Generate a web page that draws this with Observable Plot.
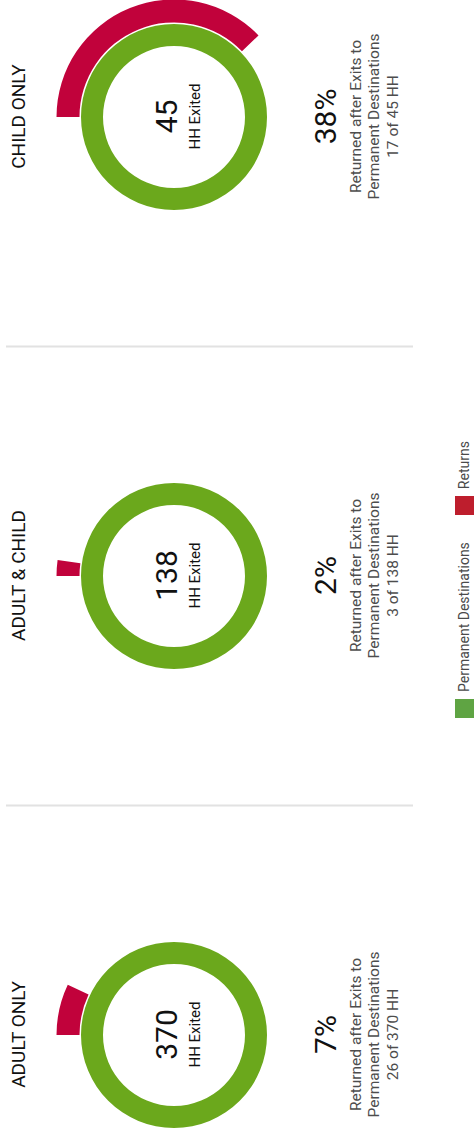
<!DOCTYPE html>
<html>
<head>
<meta charset="utf-8">
<script src="https://cdn.jsdelivr.net/npm/d3@7"></script>
<script src="https://cdn.jsdelivr.net/npm/@observablehq/plot@0.6"></script>
<style>
  html, body { margin: 0; padding: 0; background: #fff; overflow: hidden; width: 474px; height: 1137px; }
  #stage {
    position: absolute; left: 0; top: 0; width: 1137px; height: 474px;
    transform-origin: 0 0; transform: translate(0, 1137px) rotate(-90deg);
    overflow: hidden; background: #fff;
  }
  #chart svg { display: block; }
  #legend { position: absolute; left: 419px; top: 455px; white-space: nowrap; }
  .lg-swatches { font-family: Roboto, sans-serif !important; font-size: 14px !important; color: #4a4a4a !important; margin: 0 !important; min-height: 0 !important; line-height: 19px !important; }
  .lg-swatch { margin-right: 27px !important; }
  .lg-swatch > svg { margin-right: 7px !important; }
</style>
</head>
<body>
<div id="stage"><div id="chart"></div><div id="legend"></div></div>
<script>
// ---- data ----
const categories = ["ADULT ONLY", "ADULT & CHILD", "CHILD ONLY"];
const exited = [370, 138, 45];
const returned = [26, 3, 17];
const legendLabels = ["Permanent Destinations", "Returns"];
const legendColors = ["#5fa443", "#be1e2d"];

// ---- layout / style ----
const donutCY = 174;
const greenR = [71, 93];
const redR = [94.5, 117.5];
const GREEN = "#6ba81c", RED = "#c1023b";

const rows = categories.map((c, i) => ({
  category: c,
  exited: exited[i],
  returned: returned[i],
  pct: Math.round(returned[i] / exited[i] * 100) + "%",
  desc: `Returned after Exits to\nPermanent Destinations\n${returned[i]} of ${exited[i]} HH`
}));

function donuts(index, scales) {
  const x = scales.x;
  const g = d3.create("svg:g");
  const arc = d3.arc();
  // separators between panels
  for (let i = 1; i < categories.length; i++) {
    const sx = (x(categories[i - 1]) + x(categories[i])) / 2;
    g.append("line").attr("x1", sx).attr("x2", sx).attr("y1", 6).attr("y2", 413)
      .attr("stroke", "#e2e2e2").attr("stroke-width", 2);
  }
  for (const d of rows) {
    const cx = x(d.category);
    const gg = g.append("g").attr("transform", `translate(${cx},${donutCY})`);
    gg.append("path").attr("fill", GREEN)
      .attr("d", arc({innerRadius: greenR[0], outerRadius: greenR[1], startAngle: 0, endAngle: 2 * Math.PI}));
    gg.append("path").attr("fill", RED)
      .attr("d", arc({innerRadius: redR[0], outerRadius: redR[1], startAngle: 0, endAngle: 2 * Math.PI * d.returned / d.exited}));
  }
  return g.node();
}

const plot = Plot.plot({
  width: 1137,
  height: 455,
  margin: 0,
  x: {type: "point", domain: categories, range: [101, 1020], padding: 0, axis: null},
  style: {fontFamily: "Roboto, sans-serif", background: "white", overflow: "visible"},
  marks: [
    donuts,
    Plot.text(rows, {x: "category", text: "category", frameAnchor: "top", lineAnchor: "bottom", dy: 24, fontSize: 19, fill: "#111"}),
    Plot.text(rows, {x: "category", text: d => String(d.exited), frameAnchor: "top", lineAnchor: "bottom", dy: 176, fontSize: 30, fill: "#111"}),
    Plot.text(rows, {x: "category", text: () => "HH Exited", frameAnchor: "top", lineAnchor: "bottom", dy: 199, fontSize: 15, fill: "#111"}),
    Plot.text(rows, {x: "category", text: "pct", frameAnchor: "top", lineAnchor: "bottom", dy: 335, fontSize: 30, fill: "#111"}),
    Plot.text(rows, {x: "category", text: "desc", frameAnchor: "top", lineAnchor: "bottom", dy: 397, fontSize: 15.5, lineHeight: 18.5 / 15.5, fill: "#4d4d4d"})
  ]
});
document.getElementById("chart").appendChild(plot);

const legend = Plot.legend({
  color: {type: "ordinal", domain: legendLabels, range: legendColors},
  swatchSize: 19,
  className: "lg"
});
document.getElementById("legend").appendChild(legend);
</script>
</body>
</html>
